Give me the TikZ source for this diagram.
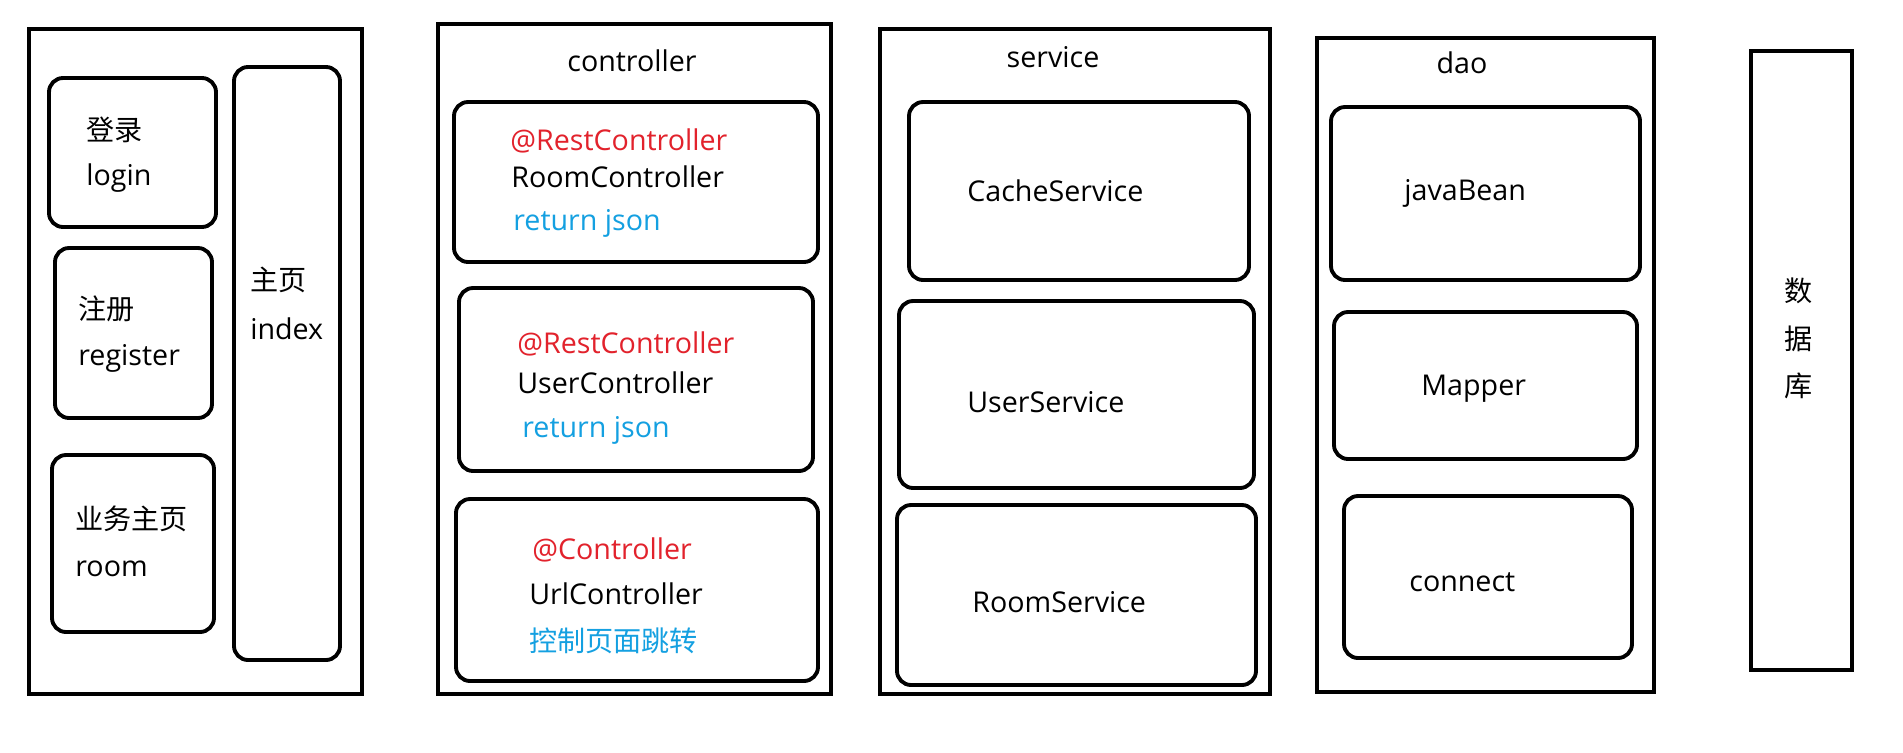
\documentclass[tikz,border=0pt]{standalone}
\usepackage{fontspec}
\setmainfont{Open Sans}
\newfontfamily\cjk{Noto Sans CJK SC}
\definecolor{annred}{RGB}{226,34,44}
\definecolor{annblue}{RGB}{20,160,225}
\tikzset{
  outerbox/.style={line width=2.4pt},
  innerbox/.style={line width=2.2pt, rounded corners=8pt},
  lbl/.style={anchor=west, inner sep=0pt, yshift=-0.05cm, font=\fontsize{16.3}{19}\selectfont},
  clbl/.style={anchor=west, inner sep=0pt, font=\fontsize{16}{19}\selectfont\cjk},
  title/.style={anchor=center, inner sep=0pt, font=\fontsize{16.3}{19}\selectfont},
}
\begin{document}
\begin{tikzpicture}[x=0.02cm, y=-0.02cm]
\useasboundingbox[fill=white] (0,0) rectangle (1903,752);
% ---- page column
\draw[outerbox] (29,29) rectangle (362,694);
\draw[innerbox] (49,78) rectangle (216,227);
\draw[innerbox] (55,248) rectangle (212,418);
\draw[innerbox] (52,455) rectangle (214,632);
\draw[innerbox] (234,67) rectangle (340,660);
\node[clbl] (t1) at (86,130) {登录};
\node[lbl] (t2) at (86,176) {login};
\node[clbl] (t3) at (78,309) {注册};
\node[lbl] (t4) at (78,356) {register};
\node[clbl] (t5) at (75,519) {业务主页};
\node[lbl] (t6) at (75,566) {room};
\node[clbl] (t7) at (250,280) {主页};
\node[lbl] (t8) at (250,326) {index};
% ---- controller column
\draw[outerbox] (438,24) rectangle (831,694);
\node[title] (ct) at (632,61) {controller};
\draw[innerbox] (454,102) rectangle (818,262);
\draw[innerbox] (459,288) rectangle (813,471);
\draw[innerbox] (456,499) rectangle (818,681);
\node[lbl, text=annred] (c1a) at (510,138) {@RestController};
\node[lbl] (c1b) at (511,174) {RoomController};
\node[lbl, text=annblue] (c1c) at (513,221) {return json};
\node[lbl, text=annred] (c2a) at (517,341) {@RestController};
\node[lbl] (c2b) at (517,380) {UserController};
\node[lbl, text=annblue] (c2c) at (522,428) {return json};
\node[lbl, text=annred] (c3a) at (532,547) {@Controller};
\node[lbl] (c3b) at (529,591) {UrlController};
\node[clbl, text=annblue] (c3c) at (529,641) {控制页面跳转};
% ---- service column
\draw[outerbox] (880,29) rectangle (1270,694);
\node[title] (st) at (1053,57) {service};
\draw[innerbox] (909,102) rectangle (1249,280);
\draw[innerbox] (899,301) rectangle (1254,488);
\draw[innerbox] (897,505) rectangle (1256,685);
\node[lbl] (s1) at (967,188) {CacheService};
\node[lbl] (s2) at (967,400) {UserService};
\node[lbl] (s3) at (972,600) {RoomService};
% ---- dao column
\draw[outerbox] (1317,38) rectangle (1654,692);
\node[title] (dt) at (1462,63) {dao};
\draw[innerbox] (1331,107) rectangle (1640,280);
\draw[innerbox] (1334,312) rectangle (1637,459);
\draw[innerbox] (1344,496) rectangle (1632,658);
\node[lbl] (d1) at (1404,191) {javaBean};
\node[lbl] (d2) at (1421,386) {Mapper};
\node[lbl] (d3) at (1409,580) {connect};
% ---- database
\draw[outerbox] (1751,51) rectangle (1852,670);
\node[clbl, anchor=center] (db1) at (1799,291) {数};
\node[clbl, anchor=center] (db2) at (1799,339) {据};
\node[clbl, anchor=center] (db3) at (1799,386) {库};
\end{tikzpicture}
\end{document}
